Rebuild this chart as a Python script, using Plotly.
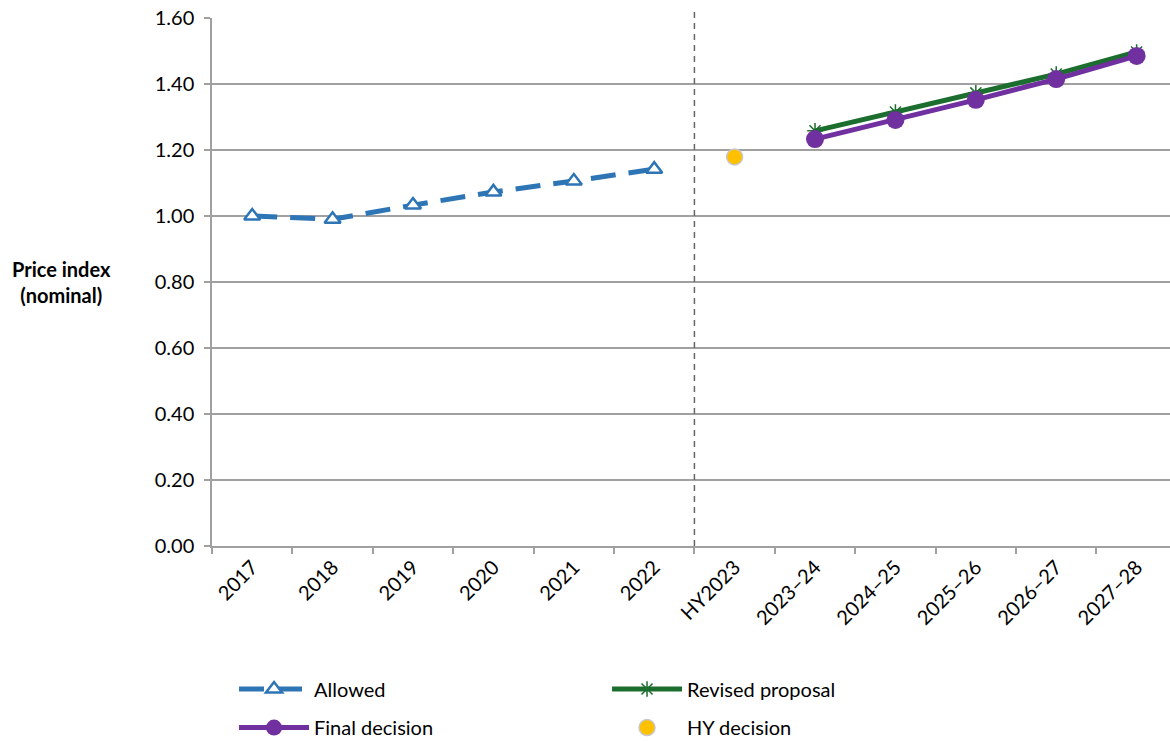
import plotly.graph_objects as go

# Category labels along the horizontal axis
categories = ["2017", "2018", "2019", "2020", "2021", "2022", "HY2023",
              "2023\u201324", "2024\u201325", "2025\u201326", "2026\u201327", "2027\u201328"]

allowed_cats = ["2017", "2018", "2019", "2020", "2021", "2022"]
allowed_vals = [1.00, 0.99, 1.033, 1.073, 1.106, 1.142]

hy_cats = ["HY2023"]
hy_vals = [1.179]

period_cats = ["2023\u201324", "2024\u201325", "2025\u201326", "2026\u201327", "2027\u201328"]
revised_vals = [1.258, 1.315, 1.373, 1.430, 1.497]
final_vals = [1.233, 1.291, 1.352, 1.415, 1.485]

y_ticks = [0.0, 0.2, 0.4, 0.6, 0.8, 1.0, 1.2, 1.4, 1.6]

FONT = "Lato"
GRID = "#A0A0A0"

fig = go.Figure()

fig.add_trace(go.Scatter(
    x=allowed_cats, y=allowed_vals, name="Allowed", mode="lines+markers",
    line=dict(color="#2E75B6", width=5, dash="25px,13px"),
    marker=dict(symbol="triangle-up", size=14, color="white",
                line=dict(color="#2E75B6", width=2.5)),
    legend="legend",
))
fig.add_trace(go.Scatter(
    x=period_cats, y=revised_vals, name="Revised proposal", mode="lines+markers",
    line=dict(color="#1B6E2E", width=5),
    marker=dict(symbol="asterisk-open", size=13,
                line=dict(color="#55A84F", width=1.5)),
    legend="legend",
))
fig.add_trace(go.Scatter(
    x=period_cats, y=final_vals, name="Final decision", mode="lines+markers",
    line=dict(color="#7030A0", width=5),
    marker=dict(symbol="circle", size=18, color="#7030A0"),
    legend="legend2",
))
fig.add_trace(go.Scatter(
    x=hy_cats, y=hy_vals, name="HY decision", mode="markers",
    marker=dict(symbol="circle", size=16, color="#FFC000",
                line=dict(color="#C8C8C8", width=1.5)),
    legend="legend2",
))

# Divider between historical years and the half-year transition
fig.add_shape(type="line", xref="x", yref="paper", x0=5.5, x1=5.5, y0=0, y1=1.02,
              line=dict(color="#666666", width=1.5, dash="6px,5px"))

fig.add_annotation(text="<b>Price index<br>(nominal)</b>", xref="paper", yref="y",
                   x=-0.157, y=0.8, xanchor="center", yanchor="middle", showarrow=False,
                   font=dict(family=FONT, size=20, color="#000000"), align="center")

fig.update_xaxes(
    type="category", categoryorder="array", categoryarray=categories,
    range=[-0.5, 11.415], tickangle=-45, ticks="outside", tickson="boundaries",
    ticklen=6, tickcolor=GRID, tickwidth=1.5, showline=True, linecolor=GRID,
    linewidth=1.5, showgrid=False, tickfont=dict(family=FONT, size=20, color="#000000"),
)
fig.update_yaxes(
    range=[0, 1.6], tickvals=y_ticks, tickformat=".2f", ticks="outside", ticklen=6,
    tickcolor=GRID, tickwidth=1.5, showline=True, linecolor=GRID, linewidth=1.5,
    showgrid=True, gridcolor=GRID, gridwidth=1.5, zeroline=False, ticklabelstandoff=6,
    tickfont=dict(family=FONT, size=20, color="#000000"),
)

legend_common = dict(orientation="h", x=0.023, xanchor="left", yanchor="top",
                     entrywidth=288, entrywidthmode="pixels", itemwidth=70,
                     traceorder="normal", font=dict(family=FONT, size=20))

fig.update_layout(
    width=1170, height=742,
    margin=dict(l=212, r=0, t=18, b=196, autoexpand=False),
    paper_bgcolor="white", plot_bgcolor="white",
    font=dict(family=FONT, size=20, color="#000000"),
    legend=dict(y=-0.234, **legend_common),
    legend2=dict(y=-0.307, **legend_common),
)

fig.write_html("out.html")
